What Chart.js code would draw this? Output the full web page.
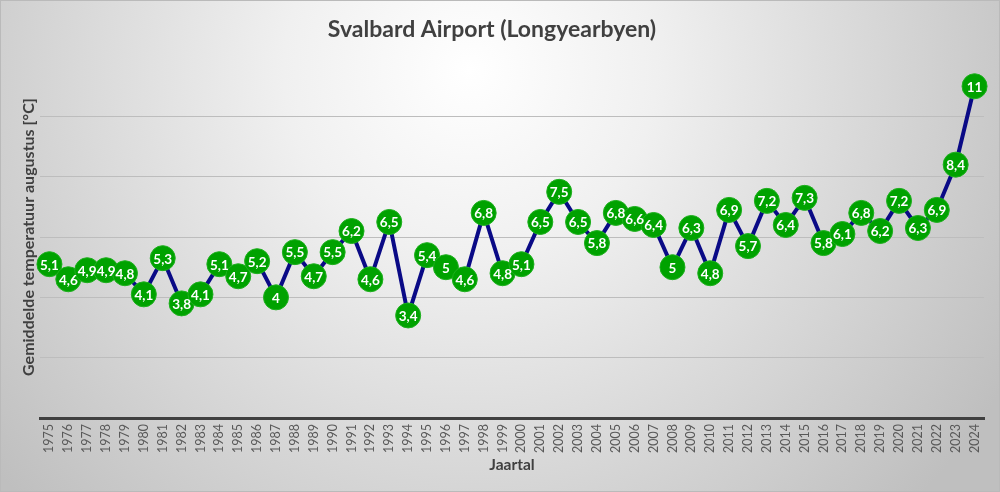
<!DOCTYPE html>
<html>
<head>
<meta charset="utf-8">
<script src="https://cdn.jsdelivr.net/npm/chart.js@4/dist/chart.umd.min.js"></script>
<style>
  html, body { margin: 0; padding: 0; background: #fff; }
  #wrap { width: 1000px; height: 492px; }
</style>
</head>
<body>
<div id="wrap"><canvas id="chart" width="1000" height="492"></canvas></div>
<script>
const years = ['1975','1976','1977','1978','1979','1980','1981','1982','1983','1984',
  '1985','1986','1987','1988','1989','1990','1991','1992','1993','1994',
  '1995','1996','1997','1998','1999','2000','2001','2002','2003','2004',
  '2005','2006','2007','2008','2009','2010','2011','2012','2013','2014',
  '2015','2016','2017','2018','2019','2020','2021','2022','2023','2024'];
const augustTemps = [5.1, 4.6, 4.9, 4.9, 4.8, 4.1, 5.3, 3.8, 4.1, 5.1,
  4.7, 5.2, 4, 5.5, 4.7, 5.5, 6.2, 4.6, 6.5, 3.4,
  5.4, 5, 4.6, 6.8, 4.8, 5.1, 6.5, 7.5, 6.5, 5.8,
  6.8, 6.6, 6.4, 5, 6.3, 4.8, 6.9, 5.7, 7.2, 6.4,
  7.3, 5.8, 6.1, 6.8, 6.2, 7.2, 6.3, 6.9, 8.4, 11];
const yMin = 0, yMax = 12, yStep = 2;

const fontName = 'Lato, "Open Sans", sans-serif';

// grey radial background like the Excel chart style
const bgPlugin = {
  id: 'bg',
  beforeDraw(chart) {
    const { ctx, width, height } = chart;
    ctx.save();
    const g = ctx.createRadialGradient(470, 70, 0, 470, 70, 620);
    g.addColorStop(0, '#ffffff');
    g.addColorStop(0.3, '#f0f0f0');
    g.addColorStop(1, '#bfbfbf');
    ctx.fillStyle = g;
    ctx.fillRect(0, 0, width, height);
    ctx.strokeStyle = '#bababa';
    ctx.lineWidth = 1;
    ctx.strokeRect(0.5, 0.5, width - 1, height - 1);
    ctx.restore();
  }
};

// white value labels inside the markers
const labelPlugin = {
  id: 'valueLabels',
  afterDatasetsDraw(chart) {
    const { ctx } = chart;
    const meta = chart.getDatasetMeta(0);
    ctx.save();
    ctx.fillStyle = '#ffffff';
    ctx.font = 'bold 13.5px ' + fontName;
    ctx.textAlign = 'center';
    ctx.textBaseline = 'middle';
    meta.data.forEach((pt, i) => {
      const txt = String(augustTemps[i]).replace('.', ',');
      ctx.fillText(txt, pt.x, pt.y + 1);
    });
    ctx.restore();
  }
};

new Chart(document.getElementById('chart'), {
  type: 'line',
  data: {
    labels: years,
    datasets: [{
      data: augustTemps,
      borderColor: '#0a0a86',
      borderWidth: 4,
      pointRadius: 12.5,
      pointHoverRadius: 12.5,
      pointBackgroundColor: '#00a200',
      pointBorderColor: '#1db01d',
      pointBorderWidth: 1,
      tension: 0,
      clip: false
    }]
  },
  options: {
    responsive: false,
    animation: false,
    layout: { padding: { top: 0, left: 0, right: 16, bottom: 0 } },
    plugins: {
      legend: { display: false },
      tooltip: { enabled: false },
      title: {
        display: true,
        text: 'Svalbard Airport (Longyearbyen)',
        color: '#404040',
        font: { family: fontName, size: 23, weight: 'bold', lineHeight: 1.2 },
        padding: { top: 16, bottom: 12.5 }
      }
    },
    scales: {
      x: {
        offset: true,
        grid: { display: false, drawTicks: false },
        border: { display: true, color: '#404040', width: 3 },
        ticks: {
          color: '#595959',
          font: { family: fontName, size: 12.5 },
          minRotation: 90,
          maxRotation: 90,
          autoSkip: false,
          padding: 6
        },
        title: {
          display: true,
          text: 'Jaartal',
          color: '#404040',
          font: { family: fontName, size: 15.5, weight: 'bold', lineHeight: 1.2 },
          padding: { top: 4, bottom: 18 }
        },
        afterFit(scale) { scale.height = 74; }
      },
      y: {
        min: yMin,
        max: yMax,
        ticks: { display: false, stepSize: yStep },
        grid: {
          drawTicks: false,
          color: c => (c.tick.value === yMax || c.tick.value === yMin) ? 'rgba(0,0,0,0)' : '#bdbdbd',
          lineWidth: 1
        },
        border: { display: false },
        title: {
          display: true,
          text: 'Gemiddelde temperatuur augustus [°C]',
          color: '#404040',
          font: { family: fontName, size: 16, weight: 'bold', lineHeight: 1.2 },
          padding: { top: 19.5, bottom: 0 }
        },
        afterFit(scale) { scale.width = 40; }
      }
    }
  },
  plugins: [bgPlugin, labelPlugin]
});
</script>
</body>
</html>
